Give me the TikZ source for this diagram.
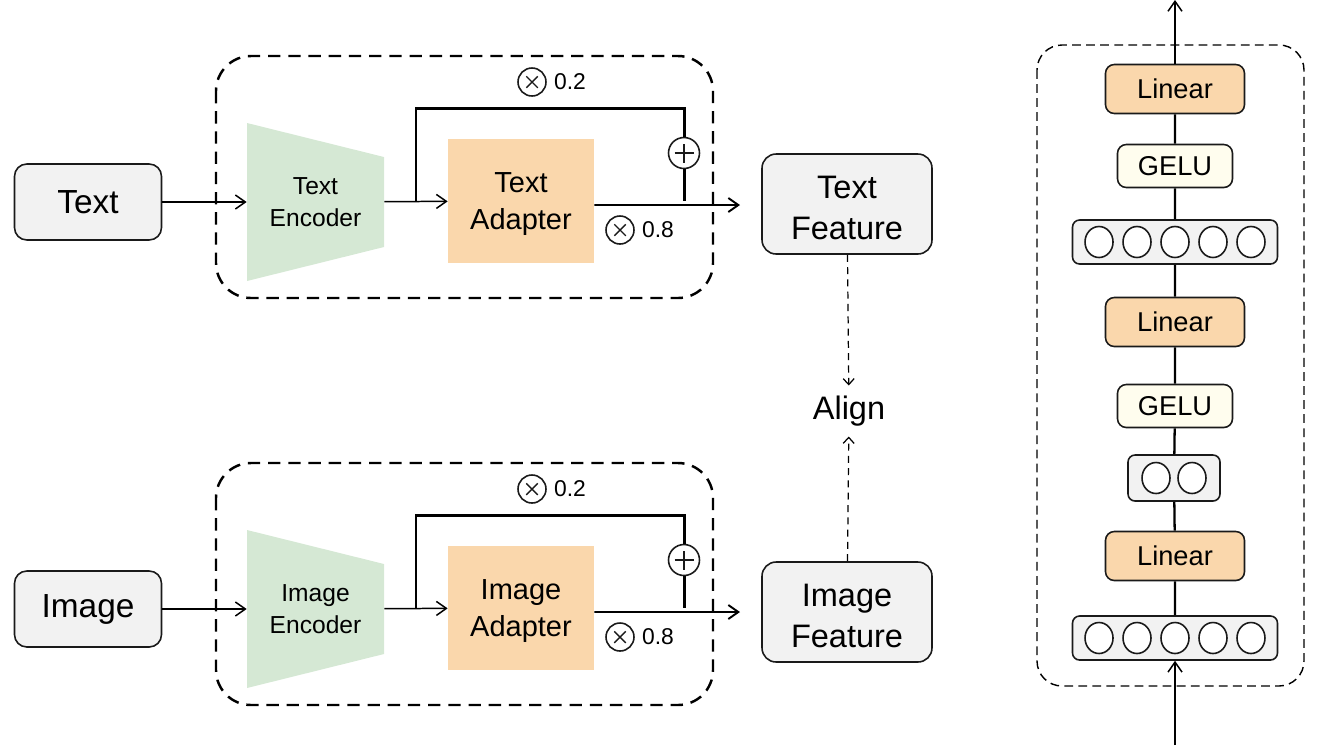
\documentclass[tikz,border=0pt]{standalone}
\usepackage{fontspec}
\setmainfont{Liberation Sans}
\usetikzlibrary{arrows.meta,positioning,calc,shapes.geometric}
\definecolor{boxgray}{RGB}{242,242,242}
\definecolor{encgreen}{RGB}{213,232,212}
\definecolor{adaorange}{RGB}{250,215,172}
\definecolor{geluivory}{RGB}{255,253,238}
\definecolor{linedark}{RGB}{26,26,26}

\begin{document}
\begin{tikzpicture}[x=0.02cm, y=-0.02cm,
    inbox/.style={rectangle, rounded corners=7pt, draw=linedark, line width=0.9pt, fill=boxgray,
                  minimum width=2.94cm, minimum height=1.52cm, font=\fontsize{19}{23}\selectfont},
    feat/.style={inbox, minimum width=3.4cm, minimum height=2cm, rounded corners=8pt, align=center,
                 text height=41pt, font=\fontsize{18.5}{23.5}\selectfont},
    enc/.style={minimum width=2.74cm, minimum height=3.16cm, inner sep=0pt, align=center,
                font=\fontsize{14}{18.5}\selectfont},
    adapter/.style={rectangle, fill=adaorange, minimum width=2.92cm, minimum height=2.48cm, align=center,
                    text depth=-1pt, font=\fontsize{16.5}{21}\selectfont},
    mul/.style={circle, draw=linedark, line width=0.9pt, minimum size=0.56cm, inner sep=0pt,
                path picture={\draw[line width=0.8pt]
                  ([shift={(-0.115cm,-0.115cm)}]path picture bounding box.center) -- ([shift={(0.115cm,0.115cm)}]path picture bounding box.center)
                  ([shift={(-0.115cm,0.115cm)}]path picture bounding box.center) -- ([shift={(0.115cm,-0.115cm)}]path picture bounding box.center);}},
    plus/.style={circle, draw=linedark, line width=0.9pt, minimum size=0.62cm, inner sep=0pt,
                 path picture={\draw[line width=0.8pt]
                  ([xshift=-0.19cm]path picture bounding box.center) -- ([xshift=0.19cm]path picture bounding box.center)
                  ([yshift=-0.19cm]path picture bounding box.center) -- ([yshift=0.19cm]path picture bounding box.center);}},
    num/.style={font=\fontsize{13}{15}\selectfont, anchor=west, inner xsep=4pt, inner ysep=1pt},
    arr/.style={line width=0.85pt, -{Straight Barb[length=2mm,width=2.8mm]}},
    skip/.style={line width=1.7pt},
    outline/.style={arr, line width=1.1pt},
    darr/.style={line width=0.7pt, dash pattern=on 4pt off 3pt, -{Straight Barb[length=1.2mm,width=2.2mm]}},
    encbox/.style={line width=1.4pt, dash pattern=on 7pt off 4.5pt, rounded corners=0.7cm},
    mlpbox/.style={line width=0.8pt, dash pattern=on 5pt off 3pt, rounded corners=0.5cm},
    linear/.style={rectangle, rounded corners=5pt, draw=linedark, line width=0.9pt, fill=adaorange,
                   minimum width=2.78cm, minimum height=0.98cm, font=\fontsize{15.5}{17}\selectfont},
    gelu/.style={linear, fill=geluivory, minimum width=2.3cm, minimum height=0.86cm},
    units/.style={rectangle, rounded corners=4pt, draw=linedark, line width=0.9pt, fill=boxgray,
                  minimum width=4.1cm, minimum height=0.88cm},
    unit/.style={ellipse, draw=linedark, line width=0.9pt, fill=white, minimum width=0.56cm,
                 minimum height=0.62cm, inner sep=0pt},
    colline/.style={line width=1.3pt}
]
    \useasboundingbox (0,0) rectangle (1318,745);

    % text branch
    \draw[encbox] (216,56) rectangle (713,298);
    \node[inbox] (txt) at (88,202) {Text};
    \fill[encgreen] (247,123) -- (384,157) -- (384,247) -- (247,281) -- cycle;
    \node[enc] (tenc) at (315.5,202) {Text\\Encoder};
    \node[adapter] (tada) at (521,201) {Text\\Adapter};
    \node[plus] (tplus) at (684,153) {};
    \node[mul] (tm2) at (532,82) {};
    \node[num] (tw2) at (tm2.east) {0.2};
    \node[mul] (tm8) at (620,230) {};
    \node[num] (tw8) at (tm8.east) {0.8};
    \node[feat] (tfeat) at (847,204) {Text\\Feature};
    \coordinate (tsplit) at ($(tenc.east)!0.5!(tada.west)$);
    \coordinate (ttop) at (684,108);
    \coordinate (tout) at (740,205);
    \draw[arr] (txt) -- (tenc);
    \draw[arr] (tenc) -- (tada);
    \draw[skip] (tsplit) |- (ttop) -- (tplus);
    \draw[skip] (tplus) -- (tplus |- tada.east);
    \draw[outline] ([yshift=-0.08cm]tada.east) -- (tout);

    % image branch
    \draw[encbox] (216,463) rectangle (713,705);
    \node[inbox] (img) at (88,609) {Image};
    \fill[encgreen] (247,530) -- (384,564) -- (384,654) -- (247,688) -- cycle;
    \node[enc] (ienc) at (315.5,609) {Image\\Encoder};
    \node[adapter] (iada) at (521,608) {Image\\Adapter};
    \node[plus] (iplus) at (684,560) {};
    \node[mul] (im2) at (532,489) {};
    \node[num] (iw2) at (im2.east) {0.2};
    \node[mul] (im8) at (620,637) {};
    \node[num] (iw8) at (im8.east) {0.8};
    \node[feat] (ifeat) at (847,612) {Image\\Feature};
    \coordinate (isplit) at ($(ienc.east)!0.5!(iada.west)$);
    \coordinate (itop) at (684,515);
    \coordinate (iout) at (740,612);
    \draw[arr] (img) -- (ienc);
    \draw[arr] (ienc) -- (iada);
    \draw[skip] (isplit) |- (itop) -- (iplus);
    \draw[skip] (iplus) -- (iplus |- iada.east);
    \draw[outline] ([yshift=-0.08cm]iada.east) -- (iout);

    % alignment
    \node[font=\fontsize{18.5}{22}\selectfont, inner sep=0.2cm] (align) at (849,411) {Align};
    \draw[darr] (tfeat) -- (align);
    \draw[darr] (ifeat) -- (align);

    % adapter MLP
    \draw[mlpbox] (1037,45) rectangle (1304,686);
    \node[units] (inunits) at (1175,638) {};
    \foreach \k in {-2,...,2} \node[unit] (inu\k) at ([xshift=\k*0.76cm]inunits.center) {};
    \node[linear] (lin1) at (1175,556) {Linear};
    \node[units, minimum width=1.84cm, minimum height=0.92cm] (midunits) at (1174,478) {};
    \foreach \k in {-1,1} \node[unit] (midu\k) at ([xshift=\k*0.36cm]midunits.center) {};
    \node[gelu] (gelu1) at (1175,406) {GELU};
    \node[linear] (lin2) at (1175,322) {Linear};
    \node[units] (hidunits) at (1175,242) {};
    \foreach \k in {-2,...,2} \node[unit] (hidu\k) at ([xshift=\k*0.76cm]hidunits.center) {};
    \node[gelu] (gelu2) at (1175,166) {GELU};
    \node[linear] (lin3) at (1175,89) {Linear};
    \coordinate (mlpin) at (1175,745);
    \coordinate (mlpout) at (1175,0);
    \draw[arr] (mlpin) -- (inunits);
    \draw[colline] (inunits) -- (lin1) -- (midunits) -- (gelu1) -- (lin2) -- (hidunits) -- (gelu2) -- (lin3);
    \draw[arr] (lin3) -- (mlpout);
\end{tikzpicture}
\end{document}
